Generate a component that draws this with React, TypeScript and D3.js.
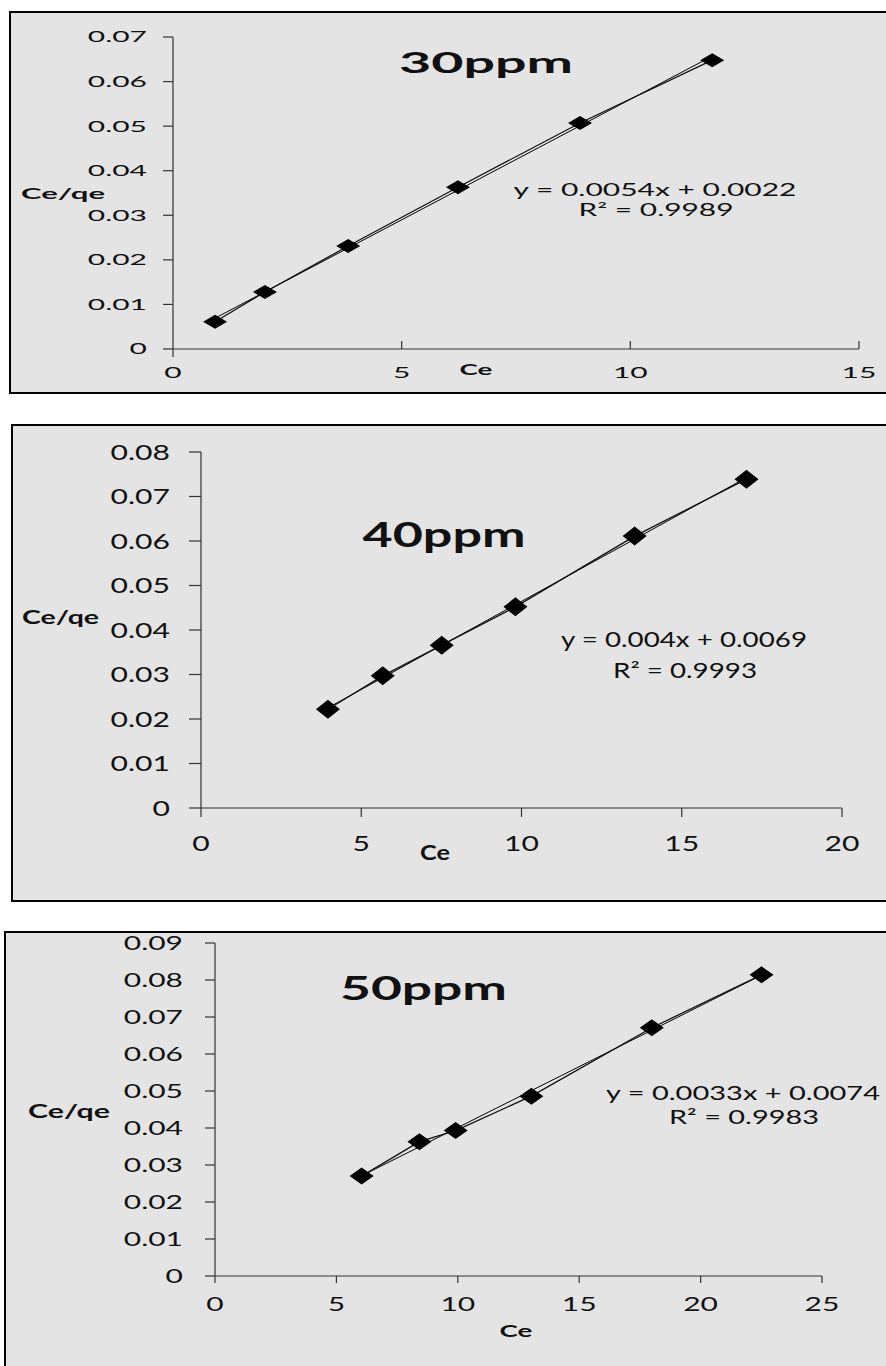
import React from 'react';
import * as d3 from 'd3';

// ---------- data ----------
const ce30 = [0.92, 2.01, 3.83, 6.23, 8.9, 11.79];
const ratio30 = [0.0061, 0.0128, 0.0231, 0.0363, 0.0507, 0.0648];
const ce40 = [3.96, 5.67, 7.51, 9.81, 13.53, 17.02];
const ratio40 = [0.0222, 0.0297, 0.0366, 0.0452, 0.0611, 0.0739];
const ce50 = [6.04, 8.42, 9.91, 13.03, 17.99, 22.51];
const ratio50 = [0.027, 0.0363, 0.0393, 0.0486, 0.0671, 0.0814];

const xTicks30 = [0, 5, 10, 15];
const yTicks30 = [0, 0.01, 0.02, 0.03, 0.04, 0.05, 0.06, 0.07];
const xTicks40 = [0, 5, 10, 15, 20];
const yTicks40 = [0, 0.01, 0.02, 0.03, 0.04, 0.05, 0.06, 0.07, 0.08];
const xTicks50 = [0, 5, 10, 15, 20, 25];
const yTicks50 = [0, 0.01, 0.02, 0.03, 0.04, 0.05, 0.06, 0.07, 0.08, 0.09];

const titles = ['30ppm', '40ppm', '50ppm'];
const equations = ['y = 0.0054x + 0.0022', 'y = 0.004x + 0.0069', 'y = 0.0033x + 0.0074'];
const rSquared = ['R\u00B2 = 0.9989', 'R\u00B2 = 0.9993', 'R\u00B2 = 0.9983'];
const xTitle = 'Ce';
const yTitle = 'Ce/qe';

// ---------- layout ----------
const FONT = 'Lato, "Open Sans", sans-serif';
const BG = '#e4e4e4';

type Layout = {
  frame: { left: number; top: number; bottom: number | null };
  xRange: [number, number];
  yRange: [number, number];
  tickFs: number;
  sx: number;
  yLabelRight: number;
  yTickLen: number;
  xLabelBase: number;
  xTickUp: number;
  xTickDown: number;
  marker: [number, number];
  title: { cx: number; base: number; w: number; fs: number };
  eq: { cx: number; base: number; w: number; fs: number };
  r2: { cx: number; base: number; w: number; fs: number };
  xt: { cx: number; base: number; w: number; fs: number };
  yt: { x: number; base: number; w: number; fs: number };
};

const layouts: Layout[] = [
  {
    frame: { left: 10, top: 12, bottom: 393 },
    xRange: [173, 859],
    yRange: [349, 37],
    tickFs: 15,
    sx: 2.0,
    yLabelRight: 147,
    yTickLen: 10,
    xLabelBase: 378,
    xTickUp: 8,
    xTickDown: 0,
    marker: [24, 14],
    title: { cx: 486, base: 73, w: 174, fs: 29 },
    eq: { cx: 655, base: 196, w: 283, fs: 17 },
    r2: { cx: 656, base: 216, w: 155, fs: 17 },
    xt: { cx: 476, base: 375, w: 33, fs: 16 },
    yt: { x: 21, base: 199, w: 84, fs: 16 },
  },
  {
    frame: { left: 12, top: 425, bottom: 901 },
    xRange: [201, 842],
    yRange: [808, 452],
    tickFs: 21.5,
    sx: 1.4,
    yLabelRight: 170,
    yTickLen: 12,
    xLabelBase: 851,
    xTickUp: 0,
    xTickDown: 9,
    marker: [24, 19],
    title: { cx: 444, base: 547, w: 163, fs: 35 },
    eq: { cx: 684, base: 647, w: 246, fs: 21 },
    r2: { cx: 685, base: 678, w: 144, fs: 21 },
    xt: { cx: 435, base: 860, w: 30, fs: 21 },
    yt: { x: 22, base: 624, w: 77, fs: 19 },
  },
  {
    frame: { left: 5, top: 932, bottom: null },
    xRange: [215, 822],
    yRange: [1276, 943],
    tickFs: 20,
    sx: 1.5,
    yLabelRight: 183,
    yTickLen: 10,
    xLabelBase: 1311,
    xTickUp: 0,
    xTickDown: 7,
    marker: [24, 17],
    title: { cx: 423.5, base: 1000, w: 167, fs: 32 },
    eq: { cx: 743, base: 1100, w: 274, fs: 19 },
    r2: { cx: 744, base: 1124, w: 150, fs: 19 },
    xt: { cx: 516, base: 1337, w: 33, fs: 17 },
    yt: { x: 28, base: 1118, w: 82, fs: 18 },
  },
];

const panels = [
  { xs: ce30, ys: ratio30, xTicks: xTicks30, yTicks: yTicks30 },
  { xs: ce40, ys: ratio40, xTicks: xTicks40, yTicks: yTicks40 },
  { xs: ce50, ys: ratio50, xTicks: xTicks50, yTicks: yTicks50 },
];

function linReg(xs: number[], ys: number[]) {
  const mx = d3.mean(xs) as number;
  const my = d3.mean(ys) as number;
  let num = 0;
  let den = 0;
  xs.forEach((x, i) => {
    num += (x - mx) * (ys[i] - my);
    den += (x - mx) * (x - mx);
  });
  const slope = num / den;
  return { slope, intercept: my - slope * mx };
}

const fmtY = (v: number) => (v === 0 ? '0' : d3.format('.2f')(v));

function FitText({ t, cx, base, w, fs, bold }: { t: string; cx: number; base: number; w: number; fs: number; bold?: boolean }) {
  return (
    <text
      x={cx - w / 2}
      y={base}
      textLength={w}
      lengthAdjust="spacingAndGlyphs"
      fontFamily={FONT}
      fontSize={fs}
      fontWeight={bold ? 700 : 400}
      fill="#111"
    >
      {t}
    </text>
  );
}

function Panel({ idx }: { idx: number }) {
  const L = layouts[idx];
  const P = panels[idx];
  const x = d3.scaleLinear().domain([P.xTicks[0], P.xTicks[P.xTicks.length - 1]]).range(L.xRange);
  const y = d3.scaleLinear().domain([P.yTicks[0], P.yTicks[P.yTicks.length - 1]]).range(L.yRange);
  const pts = P.xs.map((v, i) => [v, P.ys[i]] as [number, number]);
  const line = d3.line<[number, number]>().x((d) => x(d[0])).y((d) => y(d[1]));
  const reg = linReg(P.xs, P.ys);
  const x0 = d3.min(P.xs) as number;
  const x1 = d3.max(P.xs) as number;
  const trend: [number, number][] = [
    [x0, reg.slope * x0 + reg.intercept],
    [x1, reg.slope * x1 + reg.intercept],
  ];
  const [mw, mh] = L.marker;
  const bottom = L.frame.bottom ?? 1400;
  const axisColor = '#333';
  return (
    <g>
      <rect x={L.frame.left} y={L.frame.top} width={900 - L.frame.left} height={bottom - L.frame.top} fill={BG} stroke="#000" strokeWidth={2} />
      <line x1={L.xRange[0]} x2={L.xRange[0]} y1={L.yRange[1]} y2={L.yRange[0]} stroke={axisColor} strokeWidth={1.2} />
      <line x1={L.xRange[0]} x2={L.xRange[1]} y1={L.yRange[0]} y2={L.yRange[0]} stroke={axisColor} strokeWidth={1.2} />
      {P.yTicks.map((t) => (
        <g key={'y' + t}>
          <line x1={L.xRange[0] - L.yTickLen} x2={L.xRange[0]} y1={y(t)} y2={y(t)} stroke={axisColor} strokeWidth={1.2} />
          <text
            transform={`translate(${L.yLabelRight},${y(t) + L.tickFs * 0.36}) scale(${L.sx},1)`}
            textAnchor="end"
            fontFamily={FONT}
            fontSize={L.tickFs}
            fill="#111"
          >
            {fmtY(t)}
          </text>
        </g>
      ))}
      {P.xTicks.map((t, i) => (
        <g key={'x' + t}>
          <line
            x1={x(t)}
            x2={x(t)}
            y1={L.yRange[0] - (i === 0 ? 0 : L.xTickUp)}
            y2={L.yRange[0] + (i === 0 && L.xTickUp > 0 ? L.xTickUp : L.xTickDown)}
            stroke={axisColor}
            strokeWidth={1.2}
          />
          <text
            transform={`translate(${x(t)},${L.xLabelBase}) scale(${L.sx},1)`}
            textAnchor="middle"
            fontFamily={FONT}
            fontSize={L.tickFs}
            fill="#111"
          >
            {t}
          </text>
        </g>
      ))}
      <path d={line(trend) as string} fill="none" stroke="#000" strokeWidth={1} />
      <path d={line(pts) as string} fill="none" stroke="#111" strokeWidth={1.3} />
      {pts.map((d, i) => {
        const cx = x(d[0]);
        const cy = y(d[1]);
        return (
          <path
            key={i}
            d={`M${cx - mw / 2},${cy}L${cx},${cy - mh / 2}L${cx + mw / 2},${cy}L${cx},${cy + mh / 2}Z`}
            fill="#000"
          />
        );
      })}
      <FitText t={titles[idx]} {...L.title} bold />
      <FitText t={equations[idx]} {...L.eq} />
      <FitText t={rSquared[idx]} {...L.r2} />
      <FitText t={xTitle} {...L.xt} bold />
      <FitText t={yTitle} cx={L.yt.x + L.yt.w / 2} base={L.yt.base} w={L.yt.w} fs={L.yt.fs} bold />
    </g>
  );
}

export default function App() {
  return (
    <svg
      width={886}
      height={1366}
      style={{ position: 'absolute', left: 0, top: 0, background: '#fff' }}
    >
      <rect x={0} y={0} width={886} height={1366} fill="#fff" />
      {[0, 1, 2].map((i) => (
        <Panel key={i} idx={i} />
      ))}
    </svg>
  );
}
